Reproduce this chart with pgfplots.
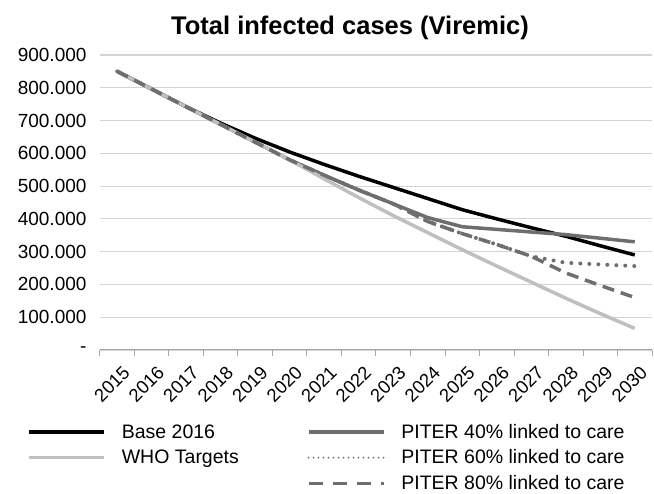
\documentclass[border=0pt]{standalone}
\usepackage{pgfplots}
\pgfplotsset{compat=1.18}
\usepackage{fontspec}
\setmainfont{Liberation Sans}
\definecolor{whogray}{HTML}{BFBFBF}
\definecolor{pgray}{HTML}{6E6E6E}
\definecolor{gridgray}{HTML}{D4D4D4}
\definecolor{axgray}{HTML}{A6A6A6}
\begin{document}
\begin{tikzpicture}
\useasboundingbox (-100pt,-144pt) rectangle (554pt,350pt);
\node[font=\fontsize{25.5}{30}\selectfont\bfseries, anchor=base] at (250pt,315pt) {Total infected cases (Viremic)};
\begin{axis}[
  at={(0pt,0pt)}, anchor=south west, scale only axis,
  width=552pt, height=295pt,
  xmin=-0.5, xmax=15.5, ymin=0, ymax=900000,
  axis x line=bottom, axis y line=left,
  x axis line style={-, axgray, line width=1pt},
  y axis line style={draw=none},
  ytick={0,100000,200000,300000,400000,500000,600000,700000,800000,900000},
  yticklabels={-,100.000,200.000,300.000,400.000,500.000,600.000,700.000,800.000,900.000},
  ymajorgrids, grid style={gridgray, line width=1.2pt},
  ytick style={draw=none},
  xtick={0,1,2,3,4,5,6,7,8,9,10,11,12,13,14,15},
  xticklabels={2015,2016,2017,2018,2019,2020,2021,2022,2023,2024,2025,2026,2027,2028,2029,2030},
  major tick length=0pt,
  minor xtick={-0.5,0.5,1.5,2.5,3.5,4.5,5.5,6.5,7.5,8.5,9.5,10.5,11.5,12.5,13.5,14.5,15.5},
  minor tick length=6pt, tick align=outside,
  minor tick style={axgray, line width=1pt},
  yticklabel style={font=\fontsize{19}{22}\selectfont, xshift=-10pt},
  xticklabel style={font=\fontsize{18.5}{21}\selectfont, rotate=45, anchor=north east, inner sep=1pt, xshift=-6pt, yshift=-12.5pt},
  scaled y ticks=false,
  clip=false,
  legend image code/.code={\draw[#1] (0pt,0pt) -- (75pt,0pt);},
  legend columns=2,
  legend cell align=left,
  legend style={at={(-0.132,-0.244)}, anchor=north west, draw=none, fill=none,
    inner sep=0pt, font=\fontsize{19.5}{22}\selectfont, row sep=6pt,
    /tikz/every odd column/.append style={column sep=14pt},
    /tikz/every even column/.append style={column sep=66pt}},
]
% Base 2016
\addplot[black, line width=3.5pt, forget plot] coordinates {
(0,850000) (1,796000) (2,742000) (3,692000) (4,646000) (5,604000) (6,566000) (7,530000)
(8,496000) (9,462000) (10,428000) (11,400000) (12,373000) (13,347000) (14,318000) (15,290000)};
% PITER 40%
\addplot[pgray, line width=3.5pt, forget plot] coordinates {
(0,850000) (1,796000) (2,742000) (3,688000) (4,634000) (5,580000) (6,533000) (7,488000)
(8,446000) (9,404000) (10,376000) (11,368000) (12,360000) (13,352000) (14,341000) (15,330000)};
% PITER 60%
\addplot[pgray, line width=4pt, line cap=round, dash pattern=on 0pt off 9pt, forget plot] coordinates {
(0,850000) (1,796000) (2,742000) (3,688000) (4,634000) (5,580000) (6,533000) (7,488000)
(8,446000) (9,392000) (10,355000) (11,322000) (12,286000) (13,266000) (14,261000) (15,256000)};
% WHO Targets
\addplot[whogray, line width=3.5pt, forget plot] coordinates {
(0,850000) (1,796000) (2,742000) (3,688000) (4,634000) (5,580000) (6,522000) (7,465000)
(8,410000) (9,358000) (10,306000) (11,256000) (12,207000) (13,158000) (14,111000) (15,66000)};
% PITER 80%
\addplot[pgray, line width=3.5pt, dash pattern=on 12pt off 7pt, forget plot] coordinates {
(0,850000) (1,796000) (2,742000) (3,688000) (4,634000) (5,580000) (6,533000) (7,488000)
(8,446000) (9,392000) (10,355000) (11,322000) (12,286000) (13,235000) (14,197000) (15,160000)};
% legend
\addlegendimage{black, line width=3.5pt}
\addlegendentry{Base 2016}
\addlegendimage{pgray, line width=3.5pt}
\addlegendentry{PITER 40\% linked to care}
\addlegendimage{whogray, line width=3.5pt}
\addlegendentry{WHO Targets}
\addlegendimage{pgray, line width=2pt, line cap=round, dash pattern=on 0pt off 5pt}
\addlegendentry{PITER 60\% linked to care}
\addlegendimage{empty legend}
\addlegendentry{}
\addlegendimage{pgray, line width=3.5pt, dash pattern=on 14pt off 10pt}
\addlegendentry{PITER 80\% linked to care}
\end{axis}
\end{tikzpicture}
\end{document}
